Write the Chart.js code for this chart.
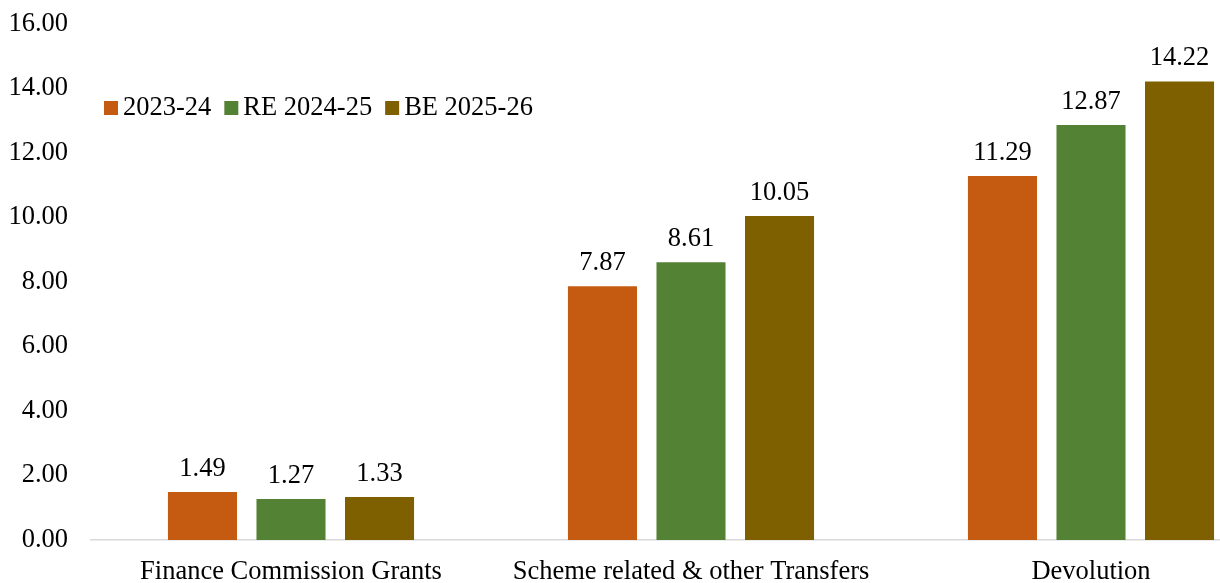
<!DOCTYPE html>
<html>
<head>
<meta charset="utf-8">
<script src="https://cdn.jsdelivr.net/npm/chart.js@4/dist/chart.umd.min.js"></script>
<style>
  html, body { margin: 0; padding: 0; background: #fff; overflow: hidden; }
  #wrap { position: relative; width: 1291px; height: 583px; }
</style>
</head>
<body>
<div id="wrap"><canvas id="chart"></canvas></div>
<script>
// datos
const categories = ['Finance Commission Grants', 'Scheme related & other Transfers', 'Devolution'];
const seriesNames = ['2023-24', 'RE 2024-25', 'BE 2025-26'];
const values2324 = [1.49, 7.87, 11.29];
const valuesRE2425 = [1.27, 8.61, 12.87];
const valuesBE2526 = [1.33, 10.05, 14.22];
const yTicks = [0, 2, 4, 6, 8, 10, 12, 14, 16];

const colors = ['#C55A11', '#548235', '#7F6000'];
const FONT = '"Liberation Serif", "Times New Roman", serif';
const FSIZE = 26.5;

// etiquetas de valor encima de cada barra
const valueLabels = {
    id: 'valueLabels',
    afterDatasetsDraw(chart) {
        const ctx = chart.ctx;
        ctx.save();
        ctx.font = FSIZE + 'px ' + FONT;
        ctx.fillStyle = '#000';
        ctx.textAlign = 'center';
        ctx.textBaseline = 'alphabetic';
        chart.data.datasets.forEach((ds, i) => {
            chart.getDatasetMeta(i).data.forEach((bar, j) => {
                ctx.fillText(ds.data[j].toFixed(2), bar.x, bar.y - 16);
            });
        });
        ctx.restore();
    }
};

// leyenda dentro del área del gráfico
const innerLegend = {
    id: 'innerLegend',
    afterDraw(chart) {
        const ctx = chart.ctx;
        ctx.save();
        ctx.font = FSIZE + 'px ' + FONT;
        ctx.textBaseline = 'middle';
        ctx.textAlign = 'left';
        let x = 104;
        const y = 108;
        chart.data.datasets.forEach((ds) => {
            ctx.fillStyle = ds.backgroundColor;
            ctx.fillRect(x, y - 7, 14, 14);
            ctx.fillStyle = '#000';
            ctx.fillText(ds.label, x + 19, y);
            x += 19 + ctx.measureText(ds.label).width + 13;
        });
        ctx.restore();
    }
};

const allValues = [values2324, valuesRE2425, valuesBE2526];

new Chart(document.getElementById('chart'), {
    type: 'bar',
    data: {
        labels: categories,
        datasets: seriesNames.map((name, i) => ({
            label: name,
            data: allValues[i],
            backgroundColor: colors[i],
            borderWidth: 0,
            categoryPercentage: 0.664,
            barPercentage: 0.78
        }))
    },
    options: {
        responsive: true,
        maintainAspectRatio: false,
        animation: false,
        layout: { padding: { top: 24, left: 0, right: 0, bottom: 0 } },
        plugins: {
            legend: { display: false },
            tooltip: { enabled: false }
        },
        scales: {
            x: {
                grid: { display: false, drawTicks: false },
                border: { display: true, color: '#d9d9d9', width: 1.5 },
                ticks: {
                    color: '#000',
                    font: { family: FONT, size: FSIZE },
                    padding: 16,
                    maxRotation: 0,
                    autoSkip: false
                },
                afterFit(scale) {
                    scale.height = 43;
                    scale.paddingLeft = 0;
                    scale.paddingRight = 0;
                }
            },
            y: {
                min: 0,
                max: 16,
                grid: { display: false, drawTicks: false },
                border: { display: false },
                afterBuildTicks(scale) { scale.ticks = yTicks.map(v => ({ value: v })); },
                ticks: {
                    color: '#000',
                    font: { family: FONT, size: FSIZE },
                    padding: 23,
                    callback: (v) => Number(v).toFixed(2)
                },
                afterFit(scale) {
                    scale.width = 91;
                    scale.paddingTop = 0;
                    scale.paddingBottom = 0;
                }
            }
        }
    },
    plugins: [valueLabels, innerLegend]
});
</script>
</body>
</html>
